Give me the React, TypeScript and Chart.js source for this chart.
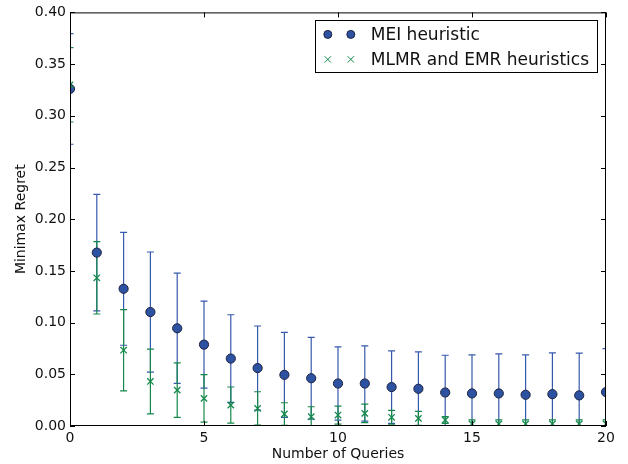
import React, { useEffect, useRef } from "react";
import { Chart, registerables } from "chart.js";

Chart.register(...registerables);

const queries = [0, 1, 2, 3, 4, 5, 6, 7, 8, 9, 10, 11, 12, 13, 14, 15, 16, 17, 18, 19, 20];
const meiMean = [0.326, 0.1677, 0.1327, 0.1102, 0.0945, 0.0787, 0.0652, 0.056, 0.0495, 0.0462, 0.0411, 0.0411, 0.0376, 0.036, 0.0324, 0.0315, 0.0315, 0.0302, 0.0308, 0.0296, 0.0328];
const meiErr = [0.0535, 0.0563, 0.0546, 0.0581, 0.0533, 0.042, 0.0424, 0.0407, 0.0411, 0.0396, 0.0354, 0.0363, 0.035, 0.0356, 0.036, 0.0372, 0.0382, 0.0385, 0.0399, 0.0408, 0.0421];
const mlmrMean = [0.33, 0.1433, 0.0733, 0.0431, 0.0347, 0.0267, 0.0202, 0.017, 0.0116, 0.009, 0.0106, 0.0122, 0.0084, 0.0074, 0.0058, 0.002, 0.002, 0.002, 0.002, 0.002, 0.002];
const mlmrErr = [0.036, 0.035, 0.0393, 0.0313, 0.0263, 0.023, 0.0175, 0.0161, 0.0109, 0.0096, 0.0087, 0.009, 0.0067, 0.0067, 0.0032, 0.004, 0.004, 0.004, 0.004, 0.004, 0.004];
const seriesLabels = ["MEI heuristic", "MLMR and EMR heuristics"];
const yTicks = [0, 0.05, 0.1, 0.15, 0.2, 0.25, 0.3, 0.35, 0.4];
const xTicks = [0, 5, 10, 15, 20];

const FONT = "'DejaVu Sans', sans-serif";
const BLUE_FILL = "#2d52a2";
const BLUE_EDGE = "#1c2340";
const BLUE_BAR = "#3658ad";
const GREEN = "#168a4c";
const GREEN_BAR = "#14884a";

const errorBarPlugin = {
  id: "errorBars",
  beforeDatasetsDraw(chart: any) {
    const { ctx, chartArea, scales } = chart;
    const xs = scales.x;
    const ys = scales.y;
    ctx.save();
    ctx.beginPath();
    ctx.rect(chartArea.left, chartArea.top, chartArea.right - chartArea.left, chartArea.bottom - chartArea.top);
    ctx.clip();
    const sets = [
      { mean: meiMean, err: meiErr, color: BLUE_BAR },
      { mean: mlmrMean, err: mlmrErr, color: GREEN_BAR },
    ];
    ctx.lineWidth = 1.2;
    for (const s of sets) {
      ctx.strokeStyle = s.color;
      for (let i = 0; i < queries.length; i++) {
        const x = xs.getPixelForValue(queries[i]);
        const yt = ys.getPixelForValue(s.mean[i] + s.err[i]);
        const yb = ys.getPixelForValue(s.mean[i] - s.err[i]);
        ctx.beginPath();
        ctx.moveTo(x, yt);
        ctx.lineTo(x, yb);
        ctx.moveTo(x - 3.5, yt);
        ctx.lineTo(x + 3.5, yt);
        ctx.moveTo(x - 3.5, yb);
        ctx.lineTo(x + 3.5, yb);
        ctx.stroke();
      }
    }
    ctx.restore();
  },
};

const framePlugin = {
  id: "frame",
  afterDraw(chart: any) {
    const { ctx, chartArea, scales } = chart;
    const { left, right, top, bottom } = chartArea;
    const xs = scales.x;
    const ys = scales.y;
    ctx.save();
    ctx.strokeStyle = "#000";
    ctx.lineWidth = 1;
    ctx.strokeRect(left + 0.5, top + 0.5, right - left - 1, bottom - top - 1);
    const tl = 5;
    ctx.beginPath();
    for (const v of yTicks) {
      const y = Math.round(ys.getPixelForValue(v)) + 0.5;
      ctx.moveTo(left, y);
      ctx.lineTo(left + tl, y);
      ctx.moveTo(right, y);
      ctx.lineTo(right - tl, y);
    }
    for (const v of xTicks) {
      const x = Math.round(xs.getPixelForValue(v)) + 0.5;
      ctx.moveTo(x, bottom);
      ctx.lineTo(x, bottom - tl);
      ctx.moveTo(x, top);
      ctx.lineTo(x, top + tl);
    }
    ctx.stroke();

    // legend
    ctx.font = "17px " + FONT;
    const textW = Math.max(...seriesLabels.map((t) => ctx.measureText(t).width));
    const boxW = 56 + textW + 8;
    const boxR = right - 9;
    const boxL = boxR - boxW;
    const boxT = top + 8;
    const boxH = 52;
    ctx.fillStyle = "#fff";
    ctx.fillRect(boxL, boxT, boxW, boxH);
    ctx.strokeStyle = "#000";
    ctx.lineWidth = 1;
    ctx.strokeRect(Math.round(boxL) + 0.5, Math.round(boxT) + 0.5, Math.round(boxW), boxH);
    const rows = [boxT + 14, boxT + 39];
    const mx = [boxL + 13, boxL + 36];
    for (const x of mx) {
      ctx.beginPath();
      ctx.arc(x, rows[0], 4, 0, Math.PI * 2);
      ctx.fillStyle = BLUE_FILL;
      ctx.fill();
      ctx.strokeStyle = BLUE_EDGE;
      ctx.lineWidth = 1;
      ctx.stroke();
      ctx.beginPath();
      ctx.strokeStyle = GREEN;
      ctx.moveTo(x - 3.2, rows[1] - 3.2);
      ctx.lineTo(x + 3.2, rows[1] + 3.2);
      ctx.moveTo(x - 3.2, rows[1] + 3.2);
      ctx.lineTo(x + 3.2, rows[1] - 3.2);
      ctx.stroke();
    }
    ctx.fillStyle = "#111";
    ctx.textBaseline = "middle";
    ctx.textAlign = "left";
    ctx.fillText(seriesLabels[0], boxL + 56, rows[0] + 1);
    ctx.fillText(seriesLabels[1], boxL + 56, rows[1] + 1);
    ctx.restore();
  },
};

export default function App() {
  const ref = useRef<HTMLCanvasElement | null>(null);
  useEffect(() => {
    if (!ref.current) return;
    const chart = new Chart(ref.current, {
      type: "scatter",
      data: {
        datasets: [
          {
            label: seriesLabels[0],
            data: queries.map((q, i) => ({ x: q, y: meiMean[i] })),
            pointStyle: "circle",
            pointRadius: 4.6,
            backgroundColor: BLUE_FILL,
            borderColor: BLUE_EDGE,
            borderWidth: 1,
            clip: 0,
            order: 2,
          },
          {
            label: seriesLabels[1],
            data: queries.map((q, i) => ({ x: q, y: mlmrMean[i] })),
            pointStyle: "crossRot",
            pointRadius: 4.5,
            backgroundColor: GREEN,
            borderColor: GREEN,
            borderWidth: 1.3,
            clip: 0,
            order: 1,
          },
        ],
      },
      options: {
        responsive: false,
        animation: false,
        devicePixelRatio: 1,
        layout: { padding: { top: 11, right: 22, bottom: 0, left: 0 } },
        plugins: { legend: { display: false }, tooltip: { enabled: false } },
        scales: {
          x: {
            type: "linear",
            min: 0,
            max: 20,
            grid: { display: false, drawTicks: false },
            border: { display: false },
            ticks: {
              stepSize: 5,
              padding: 4,
              color: "#111",
              font: { family: FONT, size: 14 },
            },
            title: {
              display: true,
              text: "Number of Queries",
              color: "#111",
              font: { family: FONT, size: 14 },
              padding: { top: 0, bottom: 1 },
            },
            afterFit: (s: any) => {
              s.height = 38;
            },
          },
          y: {
            type: "linear",
            min: 0,
            max: 0.4,
            grid: { display: false, drawTicks: false },
            border: { display: false },
            ticks: {
              stepSize: 0.05,
              padding: 4,
              color: "#111",
              font: { family: FONT, size: 14 },
              callback: (v: any) => Number(v).toFixed(2),
            },
            title: {
              display: true,
              text: "Minimax Regret",
              color: "#111",
              font: { family: FONT, size: 14 },
              padding: { top: 13, bottom: 0 },
            },
            afterFit: (s: any) => {
              s.width = 70;
            },
          },
        },
      },
      plugins: [errorBarPlugin, framePlugin],
    });
    return () => chart.destroy();
  }, []);
  return (
    <div style={{ position: "fixed", left: 0, top: 0, width: 628, height: 464, background: "#fff" }}>
      <canvas ref={ref} width={628} height={464} />
    </div>
  );
}
